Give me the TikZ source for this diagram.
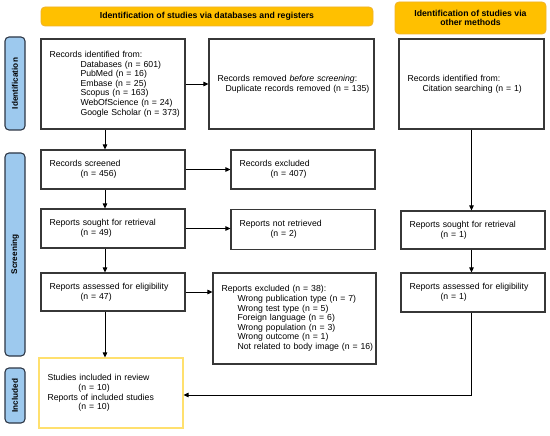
\documentclass[tikz,border=0pt]{standalone}
\usepackage{fontspec}
\setmainfont{Liberation Sans}
\usetikzlibrary{arrows.meta}
\definecolor{hdr}{RGB}{255,192,0}
\definecolor{hdrline}{RGB}{240,178,40}
\definecolor{tabfill}{RGB}{157,201,238}
\definecolor{tabline}{RGB}{45,55,70}
\definecolor{boxline}{RGB}{55,55,55}
\definecolor{inclline}{RGB}{255,224,110}
\tikzset{
 box/.style={draw=boxline, line width=1.1pt, fill=white, align=left, inner xsep=8.5pt, inner ysep=0pt, font=\fontsize{8.7}{9.6}\selectfont, anchor=center},
 hdrbox/.style={draw=hdrline, fill=hdr, rounded corners=4pt, line width=0.8pt, align=center, font=\bfseries\fontsize{8.7}{9.4}\selectfont, inner sep=0pt},
 tabbox/.style={draw=tabline, fill=tabfill, rounded corners=4pt, line width=1.1pt, rotate=90, font=\bfseries\fontsize{8.2}{10}\selectfont, inner sep=0pt},
 arr/.style={-{Triangle[length=5pt,width=4.5pt]}, line width=0.9pt},
 ln/.style={line width=0.9pt}
}
\begin{document}
\begin{tikzpicture}[x=1pt,y=-1pt]
\useasboundingbox[fill=white] (0,0) rectangle (550,436);
% headers
\node[hdrbox, minimum width=332pt, minimum height=19pt] (h1) at (207,16.5) {Identification of studies via databases and registers};
\node[hdrbox, minimum width=151pt, minimum height=32pt] (h2) at (470.5,18) {Identification of studies via\\other methods};
% side tabs
\node[tabbox, minimum width=93pt, minimum height=20pt] (t1) at (15,83.5) {Identification};
\node[tabbox, minimum width=203pt, minimum height=20pt] (t2) at (15,254.5) {Screening};
\node[tabbox, minimum width=55pt, minimum height=20pt] (t3) at (15,395.5) {Included};
% boxes
\node[box, text width=127pt, minimum height=90pt] (idrec) at (113,84) {Records identified from:\\
\hspace*{31pt}Databases (n = 601)\\
\hspace*{31pt}PubMed (n = 16)\\
\hspace*{31pt}Embase (n = 25)\\
\hspace*{31pt}Scopus (n = 163)\\
\hspace*{31pt}WebOfScience (n = 24)\\
\hspace*{31pt}\mbox{Google Scholar (n = 373)}};
\node[box, text width=148pt, minimum height=90pt] (removed) at (291.5,84) {\mbox{Records removed \textit{before screening}:}\\
\hspace*{8pt}\mbox{Duplicate records removed (n = 135)}};
\node[box, text width=128pt, minimum height=90pt] (otherrec) at (471.5,84) {Records identified from:\\
\hspace*{15pt}\mbox{Citation searching (n = 1)}};
\node[box, text width=127pt, minimum height=39pt] (screened) at (113,169.5) {Records screened\\\hspace*{31pt}(n = 456)};
\node[box, text width=127pt, minimum height=39pt] (excluded) at (303,169.5) {Records excluded\\\hspace*{31pt}(n = 407)};
\node[box, text width=127pt, minimum height=39pt] (sought) at (113,228.5) {Reports sought for retrieval\\\hspace*{31pt}(n = 49)};
\node[box, text width=127pt, minimum height=40pt] (notret) at (303,229.5) {Reports not retrieved\\\hspace*{31pt}(n = 2)};
\node[box, text width=127pt, minimum height=38pt] (assessed) at (113,292) {\mbox{Reports assessed for eligibility}\\\hspace*{31pt}(n = 47)};
\node[box, text width=146pt, minimum height=91pt] (repexcl) at (294.5,318.5) {Reports excluded (n = 38):\\
\hspace*{16pt}\mbox{Wrong publication type (n = 7)}\\
\hspace*{16pt}Wrong test type (n = 5)\\
\hspace*{16pt}Foreign language (n = 6)\\
\hspace*{16pt}Wrong population (n = 3)\\
\hspace*{16pt}Wrong outcome (n = 1)\\
\hspace*{16pt}\mbox{Not related to body image (n = 16)}\\[9pt]};
\node[box, text width=127pt, minimum height=38pt] (othersought) at (473,230) {Reports sought for retrieval\\\hspace*{31pt}(n = 1)};
\node[box, text width=127pt, minimum height=39pt] (otherassessed) at (473,292.5) {\mbox{Reports assessed for eligibility}\\\hspace*{31pt}(n = 1)};
\node[box, draw=inclline, text width=127pt, minimum height=70pt] (included) at (111,393) {Studies included in review\\
\hspace*{31pt}(n = 10)\\
\mbox{Reports of included studies}\\
\hspace*{31pt}(n = 10)};
% connectors
\draw[arr] (idrec) -- (removed);
\draw[arr] ([xshift=-8pt]idrec.south) -- ([xshift=-8pt]idrec.south |- screened.north);
\draw[arr] (screened) -- (excluded);
\draw[arr] ([xshift=-8pt]screened.south) -- ([xshift=-8pt]screened.south |- sought.north);
\draw[arr] (sought.east) -- (sought.east -| notret.west);
\draw[arr] ([xshift=-8pt]sought.south) -- ([xshift=-8pt]sought.south |- assessed.north);
\draw[arr] (assessed.east) -- (assessed.east -| repexcl.west);
\draw[arr] ([xshift=-8pt]assessed.south) -- ([xshift=-8pt]assessed.south |- included.north);
\draw[arr] (otherrec.south) -- (otherrec.south |- othersought.north);
\draw[arr] (otherrec.south |- othersought.south) -- (otherrec.south |- otherassessed.north);
\coordinate (turn) at (otherrec.south |- 0,395);
\draw[ln] (otherrec.south |- otherassessed.south) -- (turn);
\draw[arr] (turn) -- (turn -| included.east);
\end{tikzpicture}
\end{document}
